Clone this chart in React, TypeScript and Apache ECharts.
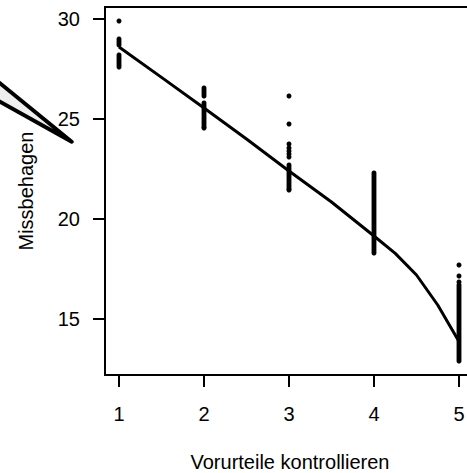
import React, { useEffect, useRef } from "react";
import * as echarts from "echarts";

const xTicks = [1, 2, 3, 4, 5];
const yTicks = [15, 20, 25, 30];

const col1 = [29.9, 29.0, 28.9, 28.8, 28.7, 28.2, 28.1, 28.0, 27.9, 27.8, 27.7, 27.6];
const col2 = [26.55, 26.45, 26.35, 26.25, 26.15, 25.8, 25.7, 25.6, 25.5, 25.4, 25.3, 25.2, 25.1, 25.0, 24.9, 24.8, 24.7, 24.6, 24.55];
const col3 = [26.15, 24.75, 23.75, 23.55, 23.4, 23.25, 23.1, 22.7, 22.6, 22.5, 22.4, 22.3, 22.2, 22.1, 22.0, 21.9, 21.8, 21.7, 21.6, 21.5, 21.45];
const col4 = [22.3, 22.2, 22.1, 22.0, 21.9, 21.8, 21.7, 21.6, 21.5, 21.4, 21.3, 21.2, 21.1, 21.0, 20.9, 20.8, 20.7, 20.6, 20.5, 20.4, 20.3, 20.2, 20.1, 20.0, 19.9, 19.8, 19.7, 19.6, 19.5, 19.4, 19.3, 19.2, 19.1, 19.0, 18.9, 18.8, 18.7, 18.6, 18.5, 18.4, 18.3];
const col5 = [17.7, 17.15, 16.85, 16.7, 16.6, 16.5, 16.4, 16.3, 16.2, 16.1, 16.0, 15.9, 15.8, 15.7, 15.6, 15.5, 15.4, 15.3, 15.2, 15.1, 15.0, 14.9, 14.8, 14.7, 14.6, 14.5, 14.4, 14.3, 14.2, 14.1, 14.0, 13.9, 13.8, 13.7, 13.6, 13.5, 13.4, 13.3, 13.2, 13.1, 13.0, 12.9];
const columns = [col1, col2, col3, col4, col5];

const curveX = [1, 1.5, 2, 2.5, 3, 3.5, 4, 4.25, 4.5, 4.75, 5];
const curveY = [28.6, 27.08, 25.55, 24.0, 22.4, 20.85, 19.15, 18.28, 17.2, 15.7, 13.87];

const FONT = "Liberation Sans, Arial, Helvetica, sans-serif";

export default function App() {
  const ref = useRef<HTMLDivElement>(null);
  useEffect(() => {
    if (!ref.current) return;
    const chart = echarts.init(ref.current, undefined, { renderer: "svg" });
    const points: number[][] = [];
    columns.forEach((col, i) => col.forEach((v) => points.push([xTicks[i], v])));
    chart.setOption({
      animation: false,
      backgroundColor: "#fff",
      grid: {
        left: 105,
        top: 7,
        right: 7,
        bottom: 98,
        show: true,
        borderColor: "#000",
        borderWidth: 2,
        backgroundColor: "transparent",
      },
      xAxis: {
        type: "value",
        min: 0.835,
        max: 5.165,
        splitLine: { show: false },
        axisLine: { show: true, lineStyle: { color: "#000", width: 2 } },
        axisTick: { show: true, length: 12, customValues: xTicks, lineStyle: { color: "#000", width: 2 } },
        axisLabel: { customValues: xTicks, margin: 29, color: "#000", fontSize: 20, fontFamily: FONT },
      },
      yAxis: {
        type: "value",
        min: 12.2,
        max: 30.6,
        splitLine: { show: false },
        axisLine: { show: true, lineStyle: { color: "#000", width: 2 } },
        axisTick: { show: true, length: 12, customValues: yTicks, lineStyle: { color: "#000", width: 2 } },
        axisLabel: { customValues: yTicks, margin: 25, color: "#000", fontSize: 20, fontFamily: FONT },
      },
      graphic: [
        {
          type: "polygon",
          shape: { points: [[-20, 67], [71.7, 141.7], [-20, 90.5]] },
          style: { fill: "#eeeeee", stroke: "#000", lineWidth: 4, lineJoin: "round" },
          z: 10,
        },
        {
          type: "text",
          x: 26,
          y: 191,
          rotation: Math.PI / 2,
          style: { text: "Missbehagen", font: `20px ${FONT}`, fill: "#000", textAlign: "center", textVerticalAlign: "middle" },
        },
        {
          type: "text",
          x: 290,
          y: 462,
          style: { text: "Vorurteile kontrollieren", font: `20px ${FONT}`, fill: "#000", textAlign: "center", textVerticalAlign: "middle" },
        },
      ],
      series: [
        {
          type: "scatter",
          data: points,
          symbolSize: 5,
          itemStyle: { color: "#000", opacity: 1 },
        },
        {
          type: "line",
          data: curveX.map((x, i) => [x, curveY[i]]),
          symbol: "none",
          smooth: false,
          lineStyle: { color: "#000", width: 3, join: "round" },
        },
      ],
    });
    return () => chart.dispose();
  }, []);
  return (
    <div style={{ position: "fixed", left: 0, top: 0, width: 467, height: 473, overflow: "hidden", background: "#fff" }}>
      <div ref={ref} style={{ width: 480, height: 473 }} />
    </div>
  );
}
